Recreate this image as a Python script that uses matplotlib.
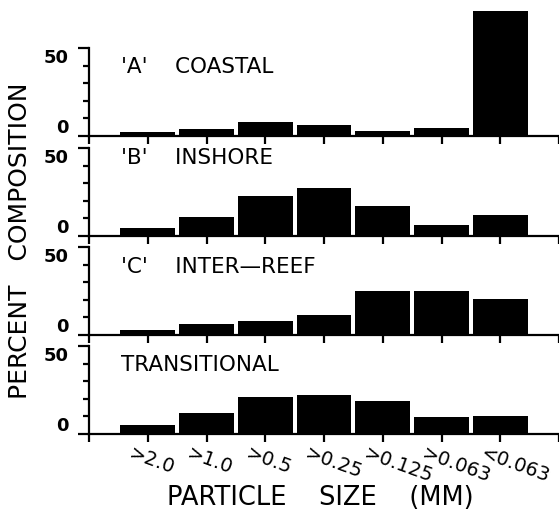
import matplotlib.pyplot as plt
import matplotlib.transforms as mtransforms
import numpy as np

# particle size classes (mm) and percent composition per zone
size_labels = ['>2.0', '>1.0', '>0.5', '>0.25', '>0.125', '>0.063', '<0.063']
coastal = [2.5, 4, 8, 6, 3, 4.5, 71]
inshore = [4.5, 11, 22.5, 27, 17, 6.5, 12]
inter_reef = [3, 6, 8, 11.5, 25, 25, 20.5]
transitional = [5, 12, 21, 22, 19, 9.5, 10]
zone_titles = ["'A'    COASTAL", "'B'    INSHORE", "'C'    INTER\u2014REEF", "TRANSITIONAL"]

plt.rcParams['font.family'] = 'DejaVu Sans'

fig = plt.figure(figsize=(5.59, 5.10), dpi=100)

W, H = 559.0, 510.0
left = 89 / W
width = 1 - left
# (baseline px, top px) of each panel
panels = [(137, 10.3), (237, 137), (336, 237), (435, 336)]
px_per_unit = 1.76
title_y = [39.5, 45, 39, 40]

series = [coastal, inshore, inter_reef, transitional]
x = np.arange(1, len(size_labels) + 1)

for i, (vals, title) in enumerate(zip(series, zone_titles)):
    base, top = panels[i]
    ax = fig.add_axes([left, 1 - base / H, width, (base - top) / H])
    ax.patch.set_alpha(0)
    ax.bar(x, vals, width=0.93, color='black', clip_on=False)
    ax.set_xlim(0, 8)
    ax.set_ylim(0, (base - top) / px_per_unit)

    for s in ['top', 'right']:
        ax.spines[s].set_visible(False)
    ax.spines['left'].set_bounds(0, 50)
    ax.spines['left'].set_linewidth(1.6)
    ax.spines['bottom'].set_linewidth(1.6)

    ax.set_yticks([0, 50])
    ax.set_yticks([10, 20, 30, 40], minor=True)
    ax.set_yticklabels(['0', '50'], fontsize=13, fontweight='bold')
    lbls = ax.get_yticklabels()
    lbls[0].set_va('bottom')
    lbls[1].set_va('top')
    ax.tick_params(axis='y', which='major', length=8, width=1.6, pad=7)
    ax.tick_params(axis='y', which='minor', length=4.3, width=1.6)

    ax.set_xticks(np.arange(0, 9))
    ax.tick_params(axis='x', length=5.5, width=1.6, direction='out')
    if i < 3:
        ax.set_xticklabels([])
    else:
        ax.set_xticklabels([''] + size_labels + [''], rotation=-20,
                           ha='left', va='top', rotation_mode='anchor',
                           fontsize=14)
        ax.tick_params(axis='x', pad=1)
        shift = mtransforms.ScaledTranslation(-0.15, 0, fig.dpi_scale_trans)
        for lab in ax.get_xticklabels():
            lab.set_transform(lab.get_transform() + shift)

    ax.text(0.55, title_y[i], title, fontsize=15.5, ha='left', va='center')

fig.text(20 / W, 1 - 241 / H, 'PERCENT   COMPOSITION', rotation=90,
         ha='center', va='center', fontsize=18)
fig.text(320 / W, 1 - 498.5 / H, 'PARTICLE    SIZE    (MM)',
         ha='center', va='center', fontsize=18.5)

fig.savefig('out.png', dpi=100)
